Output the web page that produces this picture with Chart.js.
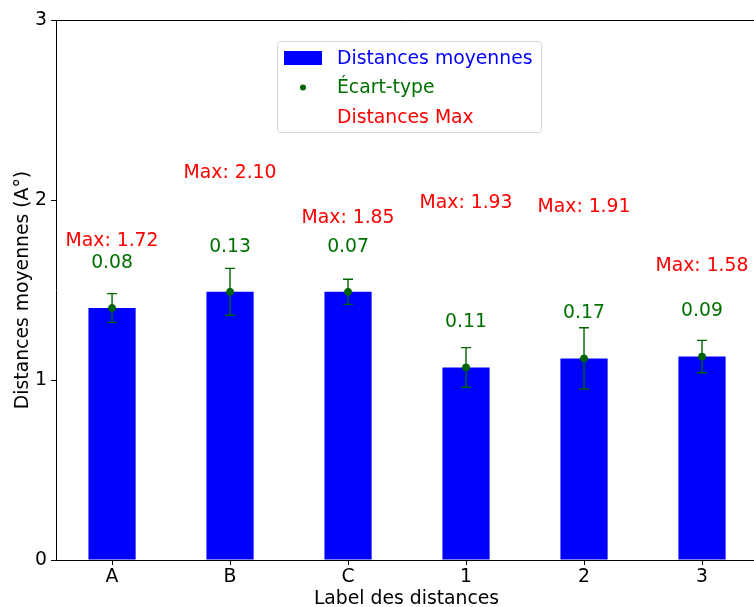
<!DOCTYPE html>
<html>
<head>
<meta charset="utf-8">
<script src="https://cdn.jsdelivr.net/npm/chart.js@4/dist/chart.umd.min.js"></script>
<style>
html,body{margin:0;padding:0;overflow:hidden;background:#fff;}
</style>
</head>
<body>
<canvas id="cvg" width="762" height="607"></canvas>
<script>
var labels = ['A', 'B', 'C', '1', '2', '3'];
var moyennes = [1.40, 1.49, 1.49, 1.07, 1.12, 1.13];
var ecarts = [0.08, 0.13, 0.07, 0.11, 0.17, 0.09];
var maxis = [1.72, 2.10, 1.85, 1.93, 1.91, 1.58];
var yTicks = [0, 1, 2, 3];

var FS = 18.8;
Chart.defaults.font.family = 'DejaVu Sans';
Chart.defaults.font.size = FS;
Chart.defaults.color = '#000';

var barPts = moyennes.map(function(v, i){ return {x: i, y: v}; });

// barres d'erreur, textes, cadre et légende
var decor = {
	id: 'decor',
	afterDatasetDraw: function(chart, args){
		if (args.index !== 0) return;
		var ctx = chart.ctx, xs = chart.scales.x, ys = chart.scales.y;
		ctx.save();
		ctx.strokeStyle = '#006400';
		ctx.lineWidth = 1.4;
		for (var i = 0; i < moyennes.length; i++){
			var px = xs.getPixelForValue(i);
			var y1 = ys.getPixelForValue(moyennes[i] - ecarts[i]);
			var y2 = ys.getPixelForValue(moyennes[i] + ecarts[i]);
			ctx.beginPath();
			ctx.moveTo(px, y1); ctx.lineTo(px, y2);
			ctx.moveTo(px - 5, y1); ctx.lineTo(px + 5, y1);
			ctx.moveTo(px - 5, y2); ctx.lineTo(px + 5, y2);
			ctx.stroke();
		}
		ctx.restore();
	},
	afterDraw: function(chart){
		var ctx = chart.ctx, xs = chart.scales.x, ys = chart.scales.y, a = chart.chartArea;
		ctx.save();
		// cadre du haut
		ctx.strokeStyle = '#000';
		ctx.lineWidth = 1;
		ctx.beginPath();
		ctx.moveTo(a.left, a.top + 0.5); ctx.lineTo(a.right, a.top + 0.5);
		ctx.stroke();

		ctx.font = FS + 'px "DejaVu Sans"';
		ctx.textAlign = 'center';
		ctx.textBaseline = 'middle';
		for (var i = 0; i < moyennes.length; i++){
			var px = xs.getPixelForValue(i);
			ctx.fillStyle = '#ff0000';
			ctx.fillText('Max: ' + maxis[i].toFixed(2), px, ys.getPixelForValue(maxis[i] + 0.05));
			ctx.fillStyle = '#007000';
			ctx.fillText(ecarts[i].toFixed(2), px, ys.getPixelForValue(moyennes[i] + 0.25));
		}

		// légende
		var bx = 277, by = a.top + 21, bw = 264, bh = 91;
		ctx.fillStyle = 'rgba(255,255,255,0.8)';
		ctx.strokeStyle = '#d6d6d6';
		ctx.lineWidth = 1;
		ctx.beginPath();
		ctx.roundRect(bx + 0.5, by + 0.5, bw, bh, 3);
		ctx.fill();
		ctx.stroke();

		var items = chart.data.datasets;
		var cols = ['#0000ff', '#007000', '#ff0000'];
		ctx.textAlign = 'left';
		for (var k = 0; k < items.length; k++){
			var ry = by + 17 + k * 29.5;
			if (k === 0){
				ctx.fillStyle = '#0000ff';
				ctx.fillRect(bx + 7, ry - 7, 38, 14);
			} else if (k === 1){
				ctx.fillStyle = '#006400';
				ctx.beginPath();
				ctx.arc(bx + 26, ry, 3, 0, Math.PI * 2);
				ctx.fill();
			}
			ctx.fillStyle = cols[k];
			ctx.fillText(items[k].label, bx + 60, ry + 1);
		}
		ctx.restore();
	}
};

var ctx = document.getElementById('cvg').getContext('2d');
var myChart = new Chart(ctx, {
	type: 'bar',
	data: {
		datasets: [
			{
				label: 'Distances moyennes',
				data: barPts,
				backgroundColor: '#0000ff',
				barPercentage: 0.4,
				categoryPercentage: 1,
				order: 2
			},
			{
				type: 'line',
				label: 'Écart-type',
				data: barPts,
				showLine: false,
				pointRadius: 3.5,
				pointBackgroundColor: '#006400',
				pointBorderColor: '#006400',
				order: 1
			},
			{
				type: 'line',
				label: 'Distances Max',
				data: [],
				order: 3
			}
		]
	},
	options: {
		responsive: false,
		animation: false,
		layout: {padding: {top: 20, right: 0, left: 0, bottom: 0}},
		plugins: {legend: {display: false}, tooltip: {enabled: false}},
		scales: {
			x: {
				type: 'linear',
				offset: false,
				min: -0.475,
				max: 5.466,
				afterBuildTicks: function(s){ s.ticks = labels.map(function(l, i){ return {value: i}; }); },
				afterFit: function(s){ s.height = 47; s.paddingLeft = 0; s.paddingRight = 0; },
				ticks: {
					autoSkip: false,
					maxRotation: 0,
					padding: 1,
					callback: function(v){ return labels[v]; }
				},
				grid: {display: true, offset: false, drawOnChartArea: false, drawTicks: true, tickLength: 5, tickColor: '#000'},
				border: {display: true, color: '#000', width: 1},
				title: {display: true, text: 'Label des distances', color: '#000', padding: {top: 0, bottom: -3}}
			},
			y: {
				min: 0,
				max: 3,
				afterBuildTicks: function(s){ s.ticks = yTicks.map(function(v){ return {value: v}; }); },
				afterFit: function(s){ s.width = 56; },
				ticks: {padding: 4},
				grid: {display: true, drawOnChartArea: false, drawTicks: true, tickLength: 5, tickColor: '#000'},
				border: {display: true, color: '#000', width: 1},
				title: {display: true, text: 'Distances moyennes (A°)', color: '#000', padding: {top: 12, bottom: 4}}
			}
		}
	},
	plugins: [decor]
});
</script>
</body>
</html>
